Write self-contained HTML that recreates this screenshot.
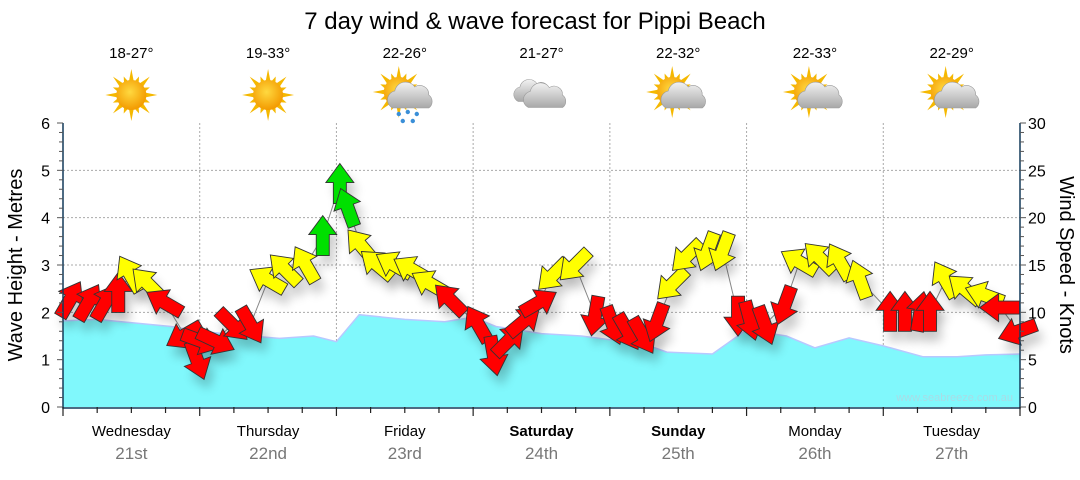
<!DOCTYPE html>
<html><head><meta charset="utf-8"><style>
body{margin:0;background:#fff;width:1080px;height:475px;overflow:hidden;font-family:"Liberation Sans",sans-serif}
</style></head><body>
<svg id="chart" width="1080" height="475" xmlns="http://www.w3.org/2000/svg" font-family="Liberation Sans, sans-serif">
<defs>
<filter id="sh" x="-50%" y="-50%" width="200%" height="200%"><feGaussianBlur stdDeviation="5"/></filter>
<radialGradient id="sun" cx="45%" cy="40%" r="60%"><stop offset="0" stop-color="#ffd940"/><stop offset="1" stop-color="#f39a00"/></radialGradient>
<linearGradient id="cl" x1="0" y1="0" x2="0" y2="1"><stop offset="0" stop-color="#f2f2f2"/><stop offset="1" stop-color="#a8a8a8"/></linearGradient>
</defs>
<text x="535" y="29" font-size="24" text-anchor="middle" fill="#000">7 day wind &amp; wave forecast for Pippi Beach</text>
<g id="grid"></g>
<g id="wave"></g>
<g id="wind"></g>
<g id="axes"></g>
<g id="wx"></g>
<text transform="translate(22,265) rotate(-90)" font-size="20" text-anchor="middle">Wave Height - Metres</text>
<text transform="translate(1060,265) rotate(90)" font-size="20" text-anchor="middle">Wind Speed - Knots</text>
<text x="1013" y="401" font-size="11" text-anchor="end" fill="#a8dce6">www.seabreeze.com.au</text>
</svg>
<script>
const days=["Wednesday","Thursday","Friday","Saturday","Sunday","Monday","Tuesday"];
const dates=["21st","22nd","23rd","24th","25th","26th","27th"];
const boldDays=[false,false,false,true,true,false,false];
const temps=["18-27°","19-33°","22-26°","21-27°","22-32°","22-33°","22-29°"];
const icons=["sun","sun","rain","cloud","partly","partly","partly"];
const waveHours=[0,6,19,24,31,38,44,48,52,60,67,72,76,84,91,96,99,106,114,120,127,132,138,144,151,157,162,168];
const waveHeights=[1.82,1.85,1.7,1.6,1.52,1.45,1.5,1.38,1.95,1.85,1.8,1.9,1.7,1.55,1.5,1.42,1.46,1.16,1.12,1.63,1.5,1.25,1.46,1.29,1.06,1.06,1.1,1.12];
const windHours=[1.2,4.4,7.4,9.7,11.8,14.9,17.9,21.4,23.5,24.1,26.7,29.7,32.9,36,39,42.6,45.6,48.6,50,52.4,55.2,58.2,61.3,64.5,68,72.9,75.6,78.2,80.8,83.4,86.1,89.9,93.4,96.5,99.1,101.7,104.3,107,109.6,113.2,115.8,118.5,120.6,123.2,126.7,129.3,132.9,136.4,139.9,145.2,147.8,150.5,152.2,154.9,158.4,161.9,164.6,167.7];
const windSpeeds=[11.3,11,11,12,14,13,11,7.6,5,7,7,8.7,8.7,13.4,14.5,15,18,23.5,21,17,15,15,14.5,13,11.3,8.7,5.5,7,9,11,14,15,9.7,8.7,8,7.6,9,13,16,16.5,16.5,9.7,9.2,8.7,10.8,15.3,15.7,15.3,13.4,10,10,10,10,13.4,12.4,11.8,10.5,8];
const windDirs=[30,30,30,0,-30,-45,-60,-120,160,110,115,135,150,-60,-45,-30,0,0,-20,-40,-50,-60,-60,-60,-45,-30,170,45,50,60,225,225,190,160,150,150,200,225,225,200,200,180,165,160,200,-60,-45,-30,-20,0,0,10,0,-30,-50,-70,-90,-110];
const windCols=["r","r","r","r","y","y","r","r","r","r","r","r","r","y","y","y","g","g","g","y","y","y","y","y","r","r","r","r","r","r","y","y","r","r","r","r","r","y","y","y","y","r","r","r","r","y","y","y","y","r","r","r","r","y","y","y","r","r"];
const NS="http://www.w3.org/2000/svg";
const X0=63,X1=1020,Y0=407,Y1=123;
const xH=h=>X0+(X1-X0)*h/168;
const yM=m=>Y0-(Y0-Y1)*m/6;
const yK=k=>Y0-(Y0-Y1)*k/30;
function el(t,a,p){const e=document.createElementNS(NS,t);for(const k in a)e.setAttribute(k,a[k]);document.getElementById(p).appendChild(e);return e;}
for(let i=1;i<6;i++){const g=el('line',{x1:X0,x2:X1,y1:yM(i),y2:yM(i),stroke:'#aaa','stroke-dasharray':'2,2'},'grid');

}
for(let d=1;d<7;d++){const g=el('line',{x1:xH(d*24),x2:xH(d*24),y1:Y1,y2:Y0,stroke:'#aaa','stroke-dasharray':'2,2'},'grid');

}
let d='M'+X0+','+Y0;
waveHours.forEach((h,i)=>{d+=' L'+xH(h).toFixed(1)+','+yM(waveHeights[i]).toFixed(1);});
d+=' L'+X1+','+Y0+' Z';
const wa=el('path',{d:d,fill:'#80f8fc'},'wave');


let l='';waveHours.forEach((h,i)=>{l+=(i?' L':'M')+xH(h).toFixed(1)+','+yM(waveHeights[i]).toFixed(1);});
const wl=el('path',{d:l,fill:'none',stroke:'#b8c8ff','stroke-width':1.5},'wave');


let c='';windHours.forEach((h,i)=>{c+=(i?' L':'M')+xH(h).toFixed(1)+','+yK(windSpeeds[i]).toFixed(1);});
const wc=el('path',{d:c,fill:'none',stroke:'#888','stroke-width':1},'wind');


const arrow="M0,-21 L14,-2 L6.5,-2 L6.5,19 L-6.5,19 L-6.5,-2 L-14,-2 Z";
const col={r:'#ff0000',y:'#ffff00',g:'#00e000'};
windHours.forEach((h,i)=>{const x=xH(h),y=yK(windSpeeds[i]);
const s=el('path',{d:arrow,fill:'#000',opacity:0.2,filter:'url(#sh)',transform:`translate(${x+5},${y+10}) rotate(${windDirs[i]})`},'wind');

});
windHours.forEach((h,i)=>{const x=xH(h),y=yK(windSpeeds[i]);
const a=el('path',{d:arrow,fill:col[windCols[i]],stroke:'#333','stroke-width':0.9,transform:`translate(${x},${y}) rotate(${windDirs[i]})`},'wind');

});
const ax=el('path',{d:`M${X0},${Y1} L${X0},${Y0+1} L${X1},${Y0+1} L${X1},${Y1}`,fill:'none',stroke:'#123a5a','stroke-width':1.5},'axes');


for(let i=0;i<=30;i++){const y=yM(i/5);const t=el('line',{x1:X0-(i%5?4:6),x2:X0,y1:y,y2:y,stroke:'#555'},'axes');

}
for(let i=0;i<=6;i++){const t=el('text',{x:50,y:yM(i)+6,'font-size':16,'text-anchor':'end'},'axes');t.textContent=i;

}
for(let i=0;i<=30;i++){const y=yK(i);const t=el('line',{x1:X1,x2:X1+(i%5?4:6),y1:y,y2:y,stroke:'#555'},'axes');

}
for(let i=0;i<=30;i+=5){const t=el('text',{x:1028,y:yK(i)+6,'font-size':16},'axes');t.textContent=i;

}
for(let h=0;h<=168;h+=6){const t=el('line',{x1:xH(h),x2:xH(h),y1:Y0,y2:Y0+(h%24?6:9),stroke:'#222','stroke-width':1.2},'axes');

}
days.forEach((n,i)=>{const cx=xH(i*24+12);
const t=el('text',{x:cx,y:436,'font-size':15,'text-anchor':'middle','font-weight':boldDays[i]?'bold':'normal'},'axes');t.textContent=n;


const u=el('text',{x:cx,y:459,'font-size':17,'text-anchor':'middle',fill:'#777'},'axes');u.textContent=dates[i];


const tt=el('text',{x:cx,y:58,'font-size':15,'text-anchor':'middle'},'wx');tt.textContent=temps[i];


const g=el('g',{transform:`translate(${cx},95)`},'wx');


let s='';
const sun=(sx,sy)=>{let r='';for(let k=0;k<16;k++){const a=k*Math.PI/8,L=k%2?20:26;r+=`<polygon points="${sx+Math.cos(a)*L},${sy+Math.sin(a)*L} ${sx+Math.cos(a+0.2)*13},${sy+Math.sin(a+0.2)*13} ${sx+Math.cos(a-0.2)*13},${sy+Math.sin(a-0.2)*13}" fill="#f5b800"/>`;}
return r+`<circle cx="${sx}" cy="${sy}" r="15" fill="url(#sun)"/>`;};
const cloud=(cx2,cy2,sc)=>`<g transform="translate(${cx2},${cy2}) scale(${sc})"><path d="M-18,10 a9,9 0 0 1 2,-17 a11,11 0 0 1 20,-4 a9,9 0 0 1 14,8 a8,8 0 0 1 0,13 Z" fill="url(#cl)" stroke="#999" stroke-width="0.6"/></g>`;
if(icons[i]=='sun')s=sun(0,0);
else if(icons[i]=='rain'){s=sun(-6,-3)+cloud(6,3,1);for(const[p,q]of[[-6,19],[3,17],[12,19],[-2,26],[8,26]])s+=`<circle cx="${p}" cy="${q}" r="2.2" fill="#3a8fd8"/>`;}
else if(icons[i]=='cloud')s=cloud(-8,-2,0.85)+cloud(4,3,0.95);
else s=sun(-6,-3)+cloud(6,3,1);
g.innerHTML=s;});
</script>
</body></html>
